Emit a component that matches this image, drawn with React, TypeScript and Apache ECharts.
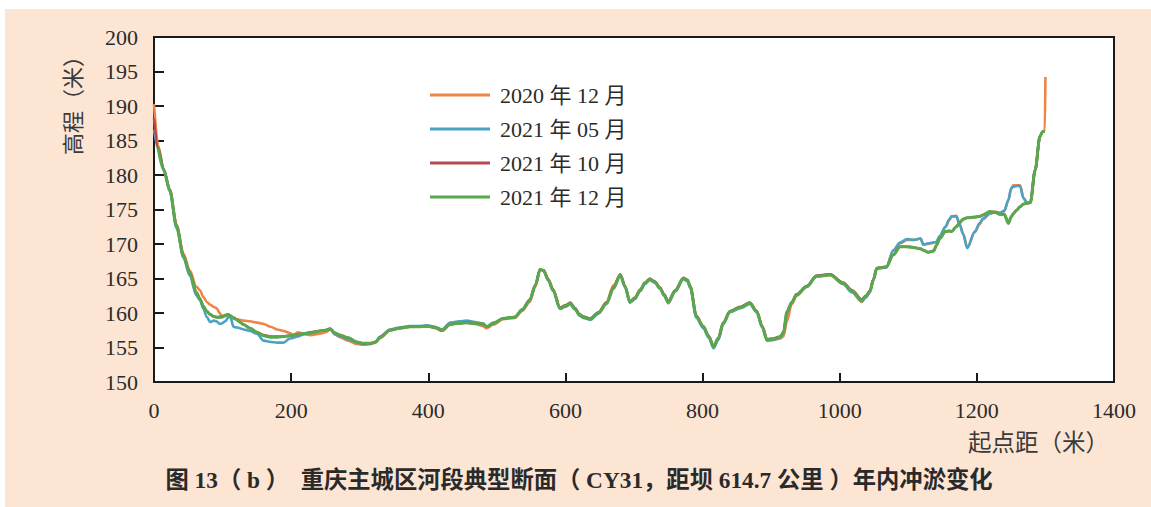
import React, { useEffect, useRef } from "react";
import * as echarts from "echarts";

// 起点距（米）
const distance = [
  0, 6, 14, 23, 33, 43, 52, 62, 67, 72,
  77, 82, 87, 91, 96, 99, 104, 108, 111, 116,
  121, 125, 131, 140, 150, 160, 170, 180, 189, 198,
  203, 210, 218, 228, 242, 250, 257, 264, 271, 283,
  296, 305, 315, 323, 330, 344, 358, 373, 385, 398,
  410, 420, 432, 445, 456, 468, 480, 485, 495, 509,
  526, 537, 548, 556, 563, 568, 575, 582, 592, 600,
  607, 614, 621, 626, 636, 648, 660, 670, 680, 687,
  694, 701, 709, 716, 723, 730, 738, 744, 750, 760,
  772, 778, 782, 791, 801, 809, 816, 823, 830, 840,
  855, 869, 879, 887, 894, 903, 913, 918, 923, 930,
  937, 952, 966, 986, 1005, 1018, 1032, 1038, 1044, 1049,
  1054, 1061, 1068, 1078, 1088, 1098, 1108, 1118, 1122, 1129,
  1137, 1141, 1146, 1154, 1160, 1163, 1170, 1175, 1180, 1186,
  1197, 1204, 1209, 1219, 1226, 1234, 1240, 1246, 1250, 1253,
  1258, 1263, 1268, 1273, 1278, 1285, 1292, 1296, 1299, 1300,
];

// 高程（米）
const elev2020Dec = [
  190.3, 184.3, 180.9, 177.9, 172.8, 168.6, 166.2, 163.8, 163.3, 162.3,
  161.6, 161.2, 160.9, 160.7, 160.0, 159.5, 159.6, 159.6, 159.5, 159.2,
  159.1, 159.0, 158.9, 158.8, 158.6, 158.4, 158.0, 157.6, 157.4, 157.1,
  156.8, 157.2, 157.0, 156.8, 157.0, 157.2, 157.6, 156.9, 156.5, 156.0,
  155.5, 155.4, 155.5, 155.7, 156.4, 157.5, 157.8, 158.0, 158.0, 158.1,
  157.8, 157.4, 158.3, 158.6, 158.6, 158.4, 158.1, 157.8, 158.3, 159.1,
  159.3, 160.3, 161.6, 163.8, 166.3, 166.2, 164.9, 163.4, 160.7, 161.0,
  161.3, 160.5, 159.6, 159.4, 159.1, 160.0, 161.6, 164.0, 165.5, 163.8,
  161.5, 162.0, 163.2, 164.3, 164.9, 164.5, 163.6, 162.5, 161.4, 163.1,
  165.0, 164.7, 163.8, 159.5, 158.0, 156.6, 155.0, 156.2, 158.4, 160.2,
  160.8, 161.4, 160.2, 158.0, 156.0, 156.1, 156.3, 156.6, 158.8, 161.3,
  162.5, 163.8, 165.3, 165.5, 164.2, 163.0, 161.6, 162.3, 163.1, 164.8,
  166.4, 166.6, 166.6, 169.0, 170.1, 170.6, 170.6, 170.8, 169.9, 170.0,
  170.2, 170.3, 171.1, 172.4, 173.5, 174.0, 174.1, 172.9, 171.5, 169.5,
  171.7, 172.9, 173.6, 174.4, 174.7, 174.5, 174.8, 176.3, 178.1, 178.5,
  178.5, 178.5, 176.7, 176.0, 176.0, 180.7, 185.6, 186.3, 186.3, 194.2,
];

const elev2021May = [
  186.6, 183.8, 180.9, 177.6, 172.3, 168.0, 165.4, 162.5, 161.9, 160.6,
  159.4, 158.7, 158.9, 158.8, 158.4, 158.5, 158.8, 159.3, 159.5, 158.0,
  157.9, 157.8, 157.6, 157.4, 157.0, 156.0, 155.8, 155.7, 155.7, 156.3,
  156.4, 156.6, 156.9, 157.1, 157.4, 157.5, 157.7, 156.9, 156.6, 156.2,
  155.7, 155.5, 155.5, 155.8, 156.6, 157.6, 157.9, 158.1, 158.1, 158.2,
  158.0, 157.6, 158.6, 158.8, 158.9, 158.7, 158.5, 158.0, 158.6, 159.2,
  159.4, 160.4, 161.8, 164.0, 166.3, 166.1, 164.7, 163.2, 160.6, 160.9,
  161.3, 160.5, 159.6, 159.3, 159.0, 159.9, 161.3, 163.5, 165.5, 163.7,
  161.5, 162.0, 163.2, 164.2, 164.8, 164.4, 163.5, 162.5, 161.5, 163.1,
  164.9, 164.6, 163.6, 159.3, 157.8, 156.4, 154.9, 156.1, 158.4, 160.1,
  160.7, 161.3, 160.1, 157.9, 156.0, 156.1, 156.4, 157.1, 160.1, 161.5,
  162.7, 163.9, 165.4, 165.6, 164.2, 163.0, 161.7, 162.2, 163.0, 164.7,
  166.4, 166.5, 166.6, 169.1, 170.2, 170.7, 170.6, 170.8, 169.9, 170.1,
  170.2, 170.3, 171.2, 172.5, 173.6, 174.0, 174.0, 172.8, 171.4, 169.4,
  171.8, 173.0, 173.7, 174.4, 174.6, 174.5, 174.8, 176.4, 178.0, 178.3,
  178.4, 178.4, 176.6, 176.0, 176.0, 180.7, 185.6, 186.3, 186.3, null,
];

const elev2021Oct = [
  188.2, 183.9, 180.8, 177.9, 172.6, 168.3, 165.9, 163.0, 162.1, 161.0,
  160.3, 159.8, 159.5, 159.4, 159.4, 159.5, 159.7, 159.8, 159.6, 159.3,
  159.0, 158.7, 158.3, 157.8, 157.2, 156.8, 156.6, 156.6, 156.6, 156.7,
  156.8, 156.9, 157.0, 157.2, 157.4, 157.5, 157.7, 157.1, 156.8, 156.4,
  155.8, 155.6, 155.6, 155.8, 156.5, 157.5, 157.8, 158.0, 158.0, 158.1,
  157.9, 157.5, 158.4, 158.5, 158.6, 158.5, 158.4, 158.0, 158.5, 159.2,
  159.4, 160.5, 161.9, 164.0, 166.3, 166.2, 164.9, 163.4, 160.8, 161.1,
  161.5, 160.7, 159.8, 159.5, 159.2, 160.1, 161.5, 163.7, 165.6, 163.9,
  161.7, 162.2, 163.4, 164.4, 165.0, 164.6, 163.7, 162.7, 161.7, 163.3,
  165.1, 164.8, 163.9, 159.6, 158.1, 156.7, 155.2, 156.4, 158.6, 160.3,
  160.9, 161.5, 160.3, 158.1, 156.2, 156.3, 156.6, 157.2, 160.1, 161.6,
  162.7, 163.9, 165.4, 165.6, 164.4, 163.3, 162.0, 162.5, 163.2, 164.9,
  166.5, 166.6, 166.7, 168.4, 169.6, 169.6, 169.5, 169.3, 169.1, 168.8,
  169.0, 169.8, 170.8, 171.8, 171.9, 171.8, 172.5, 173.1, 173.6, 173.8,
  173.9, 174.0, 174.2, 174.7, 174.6, 174.3, 174.3, 173.0, 173.9, 174.4,
  174.9, 175.4, 175.8, 175.9, 176.0, 180.7, 185.6, 186.3, 186.3, null,
];

const elev2021Dec = [
  null, 183.9, 180.7, 177.8, 172.5, 168.2, 165.8, 162.9, 162.0, 160.9,
  160.2, 159.8, 159.5, 159.4, 159.4, 159.4, 159.6, 159.8, 159.6, 159.3,
  159.0, 158.7, 158.3, 157.8, 157.2, 156.7, 156.5, 156.5, 156.6, 156.7,
  156.8, 156.9, 157.0, 157.1, 157.4, 157.5, 157.7, 157.1, 156.8, 156.4,
  155.8, 155.6, 155.6, 155.8, 156.5, 157.5, 157.8, 158.0, 158.0, 158.1,
  157.9, 157.5, 158.4, 158.5, 158.6, 158.5, 158.4, 158.0, 158.5, 159.2,
  159.4, 160.5, 161.9, 164.0, 166.3, 166.2, 164.8, 163.3, 160.7, 161.0,
  161.4, 160.6, 159.7, 159.4, 159.1, 160.0, 161.4, 163.6, 165.5, 163.8,
  161.6, 162.1, 163.3, 164.3, 164.9, 164.5, 163.6, 162.6, 161.6, 163.2,
  165.0, 164.7, 163.8, 159.5, 158.0, 156.6, 155.1, 156.3, 158.5, 160.2,
  160.8, 161.4, 160.2, 158.0, 156.1, 156.2, 156.5, 157.2, 160.2, 161.5,
  162.6, 163.8, 165.3, 165.5, 164.3, 163.2, 161.9, 162.4, 163.1, 164.8,
  166.5, 166.6, 166.7, 168.4, 169.6, 169.6, 169.5, 169.3, 169.1, 168.8,
  169.0, 169.8, 170.8, 171.8, 171.9, 171.8, 172.5, 173.1, 173.6, 173.8,
  173.9, 174.0, 174.2, 174.7, 174.6, 174.3, 174.3, 173.0, 173.9, 174.4,
  174.9, 175.4, 175.8, 175.9, 176.0, 180.7, 185.6, 186.3, 186.3, null,
];

const seriesNames = ["2020 年 12 月", "2021 年 05 月", "2021 年 10 月", "2021 年 12 月"];
const seriesColors = ["#ee8447", "#4aa3c4", "#b54a50", "#58a84e"];
const seriesValues = [elev2020Dec, elev2021May, elev2021Oct, elev2021Dec];

const xTickMin = 0;
const xTickMax = 1400;
const xTickStep = 200;
const yTickMin = 150;
const yTickMax = 200;
const yTickStep = 5;

const xAxisName = "起点距（米）";
const yAxisName = "高程（米）";
const caption = "图 13（ b ）  重庆主城区河段典型断面（ CY31，距坝 614.7 公里 ）年内冲淤变化";

const serif = "'Liberation Serif', 'DejaVu Serif', 'Noto Sans CJK SC', serif";
const textColor = "#2b2b2b";

export default function App() {
  const ref = useRef<HTMLDivElement>(null);

  useEffect(() => {
    if (!ref.current) return;
    const chart = echarts.init(ref.current, null, { renderer: "svg" });
    const option = {
      animation: false,
      backgroundColor: "#fde5d4",
      grid: {
        left: 149,
        top: 28,
        right: 37,
        bottom: 125,
        show: true,
        backgroundColor: "#ffffff",
        borderColor: "#1a1a1a",
        borderWidth: 2,
        containLabel: false,
        outerBoundsMode: "none",
      },
      legend: {
        orient: "vertical",
        left: 420,
        top: 69,
        icon: "rect",
        itemWidth: 60,
        itemHeight: 3,
        itemGap: 10,
        textStyle: {
          fontFamily: serif,
          fontSize: 22,
          lineHeight: 24,
          color: textColor,
          padding: [0, 0, 0, 5],
        },
        data: seriesNames,
      },
      xAxis: {
        type: "value",
        min: xTickMin,
        max: xTickMax,
        interval: xTickStep,
        splitLine: { show: false },
        axisLine: { show: true, lineStyle: { color: "#1a1a1a", width: 2 } },
        axisTick: { show: true, inside: true, length: 9, lineStyle: { color: "#1a1a1a", width: 2 } },
        axisLabel: {
          fontFamily: serif,
          fontSize: 22,
          color: textColor,
          margin: 17,
          formatter: (v: number) => String(v),
        },
      },
      yAxis: {
        type: "value",
        min: yTickMin,
        max: yTickMax,
        interval: yTickStep,
        splitLine: { show: false },
        axisLine: { show: true, lineStyle: { color: "#1a1a1a", width: 2 } },
        axisTick: { show: true, inside: true, length: 10, lineStyle: { color: "#1a1a1a", width: 2 } },
        axisLabel: {
          fontFamily: serif,
          fontSize: 22,
          color: textColor,
          margin: 16,
          formatter: (v: number) => String(v),
        },
      },
      series: seriesNames.map((name, i) => ({
        name,
        type: "line",
        data: distance.map((d, j) => [d, seriesValues[i][j]]),
        symbol: "none",
        smooth: 0.3,
        smoothMonotone: "x",
        connectNulls: false,
        color: seriesColors[i],
        lineStyle: { color: seriesColors[i], width: i === 3 ? 3 : 2.6 },
        z: 2 + i,
      })),
      graphic: [
        {
          type: "text",
          x: 68,
          y: 91,
          rotation: Math.PI / 2,
          style: {
            text: yAxisName,
            fontFamily: serif,
            fontSize: 22,
            fill: "#3a3a3a",
            align: "center",
            verticalAlign: "middle",
          },
        },
        {
          type: "text",
          x: 1104,
          y: 434,
          style: {
            text: xAxisName,
            fontFamily: serif,
            fontSize: 23.5,
            fill: "#3a3a3a",
            align: "right",
            verticalAlign: "middle",
          },
        },
        {
          type: "text",
          x: 574,
          y: 471,
          style: {
            text: caption,
            fontFamily: serif,
            fontSize: 23.3,
            fontWeight: "bold",
            fill: "#2a2a2a",
            align: "center",
            verticalAlign: "middle",
          },
        },
      ],
    };
    chart.setOption(option as any);
    return () => chart.dispose();
  }, []);

  return (
    <div style={{ position: "absolute", left: 0, top: 0, width: 1151, height: 507, background: "#ffffff" }}>
      <div ref={ref} style={{ position: "absolute", left: 5, top: 9, width: 1146, height: 498 }} />
    </div>
  );
}
